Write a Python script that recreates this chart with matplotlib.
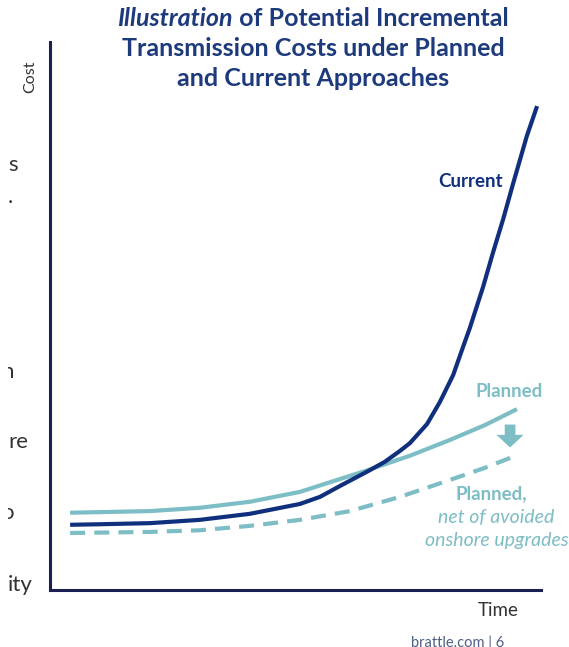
#!/usr/bin/env python3
"""Illustration of incremental transmission costs: planned vs current approach."""

import matplotlib
matplotlib.use('Agg')
import matplotlib.pyplot as plt
from matplotlib.patches import FancyArrowPatch
from matplotlib.transforms import Bbox

plt.rcParams.update({
    'font.family': ['Lato', 'DejaVu Sans'],
    'figure.dpi': 100,
    'savefig.dpi': 100,
})

NAVY = '#10307e'
TEAL = '#7dbdc5'
AXIS = '#1c2050'
TITLE = '#1d3a7c'

# time on a 0-10 scale, cost on a 0-100 scale (illustrative units)
current_time = [0.41, 1.02, 2.04, 3.05, 4.07, 5.09, 5.50, 5.91, 6.48, 6.82,
                7.13, 7.33, 7.68, 7.94, 8.21, 8.41, 8.55, 8.82, 9.02, 9.23,
                9.43, 9.71, 9.92]
current_cost = [11.9, 12.0, 12.2, 12.8, 13.9, 15.7, 17.0, 19.0, 21.7, 23.4,
                25.4, 26.8, 30.3, 34.3, 39.2, 44.3, 47.8, 55.3, 61.5, 67.7,
                74.1, 82.8, 88.3]

planned_time = [0.41, 2.04, 3.05, 4.07, 5.09, 6.48, 7.33, 8.15, 8.86, 9.51]
planned_cost = [14.1, 14.4, 15.0, 16.1, 17.9, 21.9, 24.5, 27.4, 30.1, 33.0]

net_time = [0.41, 2.04, 3.05, 4.07, 5.09, 6.11, 7.13, 8.15, 8.86, 9.51]
net_cost = [10.4, 10.6, 10.9, 11.7, 12.8, 14.4, 17.0, 20.1, 22.3, 24.6]

W, H = 569, 647
fig = plt.figure(figsize=(W / 100, H / 100))
ax = fig.add_axes([50 / W, 1 - 590 / H, 491 / W, 548 / H])

ax.plot(planned_time, planned_cost, color=TEAL, lw=3.0, solid_capstyle='butt')
ax.plot(net_time, net_cost, color=TEAL, lw=3.0, linestyle=(0, (3.6, 2.2)))
ax.plot(current_time, current_cost, color=NAVY, lw=3.0, solid_capstyle='butt',
        solid_joinstyle='round')

ax.set_xlim(0, 10)
ax.set_ylim(0, 100)
ax.set_xticks([])
ax.set_yticks([])
for side in ('top', 'right'):
    ax.spines[side].set_visible(False)
for side in ('left', 'bottom'):
    ax.spines[side].set_color(AXIS)
    ax.spines[side].set_linewidth(2.2)

# arrow from planned down to the net-of-avoided line
arrow = FancyArrowPatch((9.37, 30.7), (9.37, 25.5),
                        arrowstyle='simple,head_width=1.4,head_length=0.65,tail_width=0.55',
                        mutation_scale=14, color=TEAL, lw=0)
ax.add_patch(arrow)

ax.text(8.57, 74.6, 'Current', color=NAVY, fontsize=13.5, fontweight='bold',
        ha='center', va='center')
ax.text(9.35, 36.3, 'Planned', color=TEAL, fontsize=13.5, fontweight='bold',
        ha='center', va='center', clip_on=False)
ax.text(8.98, 17.5, 'Planned,', color=TEAL, fontsize=13.5, fontweight='bold',
        ha='center', va='center', clip_on=False)
ax.text(9.09, 13.3, 'net of avoided', color=TEAL, fontsize=14, style='italic',
        ha='center', va='center', clip_on=False)
ax.text(9.09, 9.1, 'onshore upgrades', color=TEAL, fontsize=14, style='italic',
        ha='center', va='center', clip_on=False)

# axis titles
fig.text(30 / W, 1 - 77 / H, 'Cost', rotation=90, fontsize=11.5, color='#333333',
         ha='center', va='center')
fig.text(498 / W, 1 - 610 / H, 'Time', fontsize=13.5, color='#333333',
         ha='center', va='center')

# title, first line mixes italic and upright bold
fig.canvas.draw()
r = fig.canvas.get_renderer()
t1 = fig.text(0, 1 - 18 / H, 'Illustration', fontsize=18, fontweight='bold',
              style='italic', color=TITLE, va='center')
t2 = fig.text(0, 1 - 18 / H, ' of Potential Incremental', fontsize=18,
              fontweight='bold', color=TITLE, va='center')
w1 = t1.get_window_extent(r).width
w2 = t2.get_window_extent(r).width
x0 = 313 - (w1 + w2) / 2
t1.set_x(x0 / W)
t2.set_x((x0 + w1) / W)
fig.text(313 / W, 1 - 48 / H, 'Transmission Costs under Planned', fontsize=18,
         fontweight='bold', color=TITLE, ha='center', va='center')
fig.text(313 / W, 1 - 78 / H, 'and Current Approaches', fontsize=18,
         fontweight='bold', color=TITLE, ha='center', va='center')

# cropped slide text on the left edge (clipped like the original crop)
clip = Bbox.from_extents(8, 0, 48, H)
side_text = [('s', 8, 165), ('.', 8, 197), ('n', 1, 372), ('re', 8, 442),
             ('o', 1, 513), ('ity', 8, 585)]
for s, x, y in side_text:
    t = fig.text(x / W, 1 - y / H, s, fontsize=16, color='#333333',
                 ha='left', va='center')
    t.set_clip_box(clip)
    t.set_clip_on(True)

# footer, cut by the bottom edge
fig.text(458 / W, 1 - 636 / H, 'brattle.com | 6', fontsize=10.5, color='#4e5e84',
         ha='center', va='top')

fig.savefig('out.png')
